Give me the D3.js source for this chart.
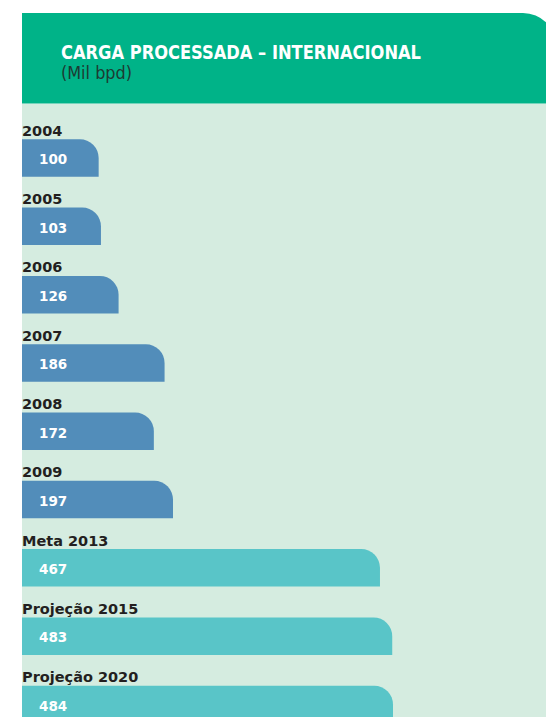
<!DOCTYPE html>
<html>
<head>
<meta charset="utf-8">
<script src="https://cdn.jsdelivr.net/npm/d3@7"></script>
<style>
  html, body { margin: 0; padding: 0; background: #fff; }
  svg { display: block; }
</style>
</head>
<body>
<div id="chart"></div>
<script>
// # Data.
const categories = ['2004', '2005', '2006', '2007', '2008', '2009', 'Meta 2013', 'Projeção 2015', 'Projeção 2020']
const values = [100, 103, 126, 186, 172, 197, 467, 483, 484]
const kinds = ['real', 'real', 'real', 'real', 'real', 'real', 'meta', 'meta', 'meta']

const title = 'CARGA PROCESSADA – INTERNACIONAL'
const subtitle = '(Mil bpd)'

const W = 546, H = 717
const left = 22
const colors = {header: '#00b388', panel: '#d5ece0', real: '#528dba', meta: '#59c5c8'}

let svg = d3.select('#chart')
    .append('svg')
    .attr('width', W)
    .attr('height', H)

// # Panel + header band.
svg.append('rect')
    .attr('x', left).attr('y', 103.5)
    .attr('width', W - left).attr('height', H - 103.5)
    .attr('fill', colors.panel)

let hr = 33, hx1 = 556, hy0 = 13, hy1 = 103.5
svg.append('path')
    .attr('d', `M${left},${hy0} H${hx1 - hr} A${hr},${hr} 0 0 1 ${hx1},${hy0 + hr} V${hy1} H${left} Z`)
    .attr('fill', colors.header)

svg.append('text')
    .attr('x', 61).attr('y', 59)
    .attr('textLength', 360).attr('lengthAdjust', 'spacingAndGlyphs')
    .attr('font-family', '"Liberation Sans Narrow", "DejaVu Sans Condensed", "Liberation Sans", sans-serif')
    .attr('font-size', 19)
    .attr('font-weight', 'bold')
    .attr('fill', '#fff')
    .text(title)

svg.append('text')
    .attr('x', 61).attr('y', 79)
    .attr('textLength', 71).attr('lengthAdjust', 'spacingAndGlyphs')
    .attr('font-family', '"Liberation Sans Narrow", "DejaVu Sans Condensed", "Liberation Sans", sans-serif')
    .attr('font-size', 17)
    .attr('fill', '#1d3b33')
    .text(subtitle)

// # Scales.
let y = d3.scaleBand()
    .domain(categories)
    .range([139.3, 139.3 + 8 * 68.3 + 37.5])
    .paddingInner(0.451)
    .paddingOuter(0)

let x = d3.scaleLinear()
    .domain([0, 484])
    .range([0, 371])

// # Bars: rounded top-right corner only.
function barPath(w, h) {
    let r = Math.min(19, w, h / 2)
    return `M0,0 H${w - r} A${r},${r} 0 0 1 ${w},${r} V${h} H0 Z`
}

let rows = svg.append('g')
    .selectAll('g')
    .data(categories.map((c, i) => ({cat: c, value: values[i], kind: kinds[i]})))
    .enter().append('g')
    .attr('transform', d => `translate(${left}, ${y(d.cat)})`)

rows.append('path')
    .attr('d', d => barPath(x(d.value), y.bandwidth()))
    .attr('fill', d => colors[d.kind])

rows.append('text')
    .attr('x', 0).attr('y', -3.5)
    .attr('font-family', '"DejaVu Sans", sans-serif')
    .attr('font-weight', 'bold')
    .attr('font-size', 14.5)
    .attr('fill', '#231f20')
    .text(d => d.cat)

rows.append('text')
    .attr('x', 17).attr('y', 25)
    .attr('font-family', '"DejaVu Sans", sans-serif')
    .attr('font-weight', 'bold')
    .attr('font-size', 13.5)
    .attr('fill', '#fff')
    .text(d => d.value)
</script>
</body>
</html>
